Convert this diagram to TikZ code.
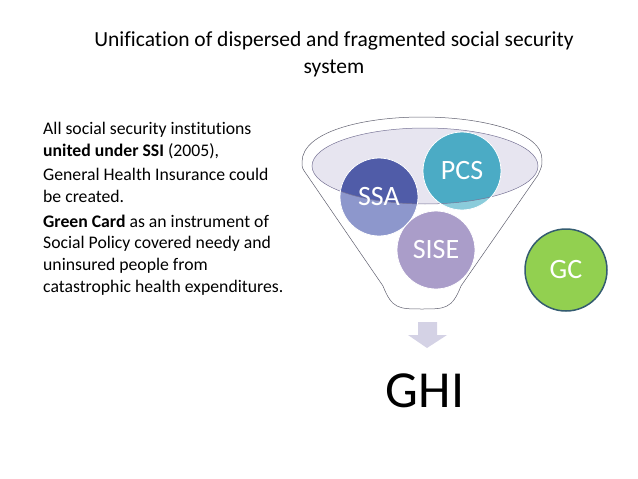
\documentclass[tikz,border=0pt]{standalone}
\usepackage{fontspec}
\setmainfont[Ligatures=NoCommon]{Carlito}
\usetikzlibrary{positioning}

\definecolor{ssadark}{RGB}{80,92,168}
\definecolor{ssalight}{RGB}{141,151,204}
\definecolor{pcsdark}{RGB}{75,171,197}
\definecolor{pcslight}{RGB}{139,204,219}
\definecolor{sisefill}{RGB}{170,157,201}
\definecolor{rimfill}{RGB}{231,229,240}
\definecolor{rimline}{RGB}{120,116,150}
\definecolor{funline}{RGB}{95,95,110}
\definecolor{arrowfill}{RGB}{212,210,229}
\definecolor{gcfill}{RGB}{146,208,80}
\definecolor{gcline}{RGB}{52,92,112}

\tikzset{
 ball/.style={circle,draw=white,line width=0.8pt,minimum size=78pt,inner sep=0pt,
   text=white,font=\fontsize{28}{28}\selectfont},
 para/.style={align=left,inner sep=0pt,font=\fontsize{17.7}{21.7}\selectfont},
}

\begin{document}
\begin{tikzpicture}[x=1pt,y=-1pt]
 \useasboundingbox (0,0) rectangle (638,479);
 \node[align=center,inner sep=0pt,anchor=north,font=\fontsize{21.5}{27}\selectfont] (title) at (334,31)
   {Unification of dispersed and fragmented social security\\system};
 \node[para,anchor=north west] (notes) at (43,122)
   {All social security institutions\\
    \textbf{united under SSI} (2005),\\[3pt]
    General Health Insurance could\\
    be created.\\[3pt]
    \textbf{Green Card} as an instrument of\\
    Social Policy covered needy and\\
    uninsured people from\\
    catastrophic health expenditures.};
 % funnel
 \draw[funline,line width=0.5pt] (302,162) .. controls (302,132) and (362,117) .. (422,117)
   .. controls (482,117) and (543,132) .. (542,160)
   .. controls (542,166) .. (538,175) -- (461,286)
   .. controls (452,309) and (445,309) .. (422,309)
   .. controls (399,309) and (392,309) .. (383,286) -- (307,175)
   .. controls (302,168) .. cycle;
 \fill[rimfill] (425,166) ellipse[x radius=113pt,y radius=38pt];
 \fill[ssalight] (379,197) circle (39pt);
 \fill[pcslight] (462,171) circle (39pt);
 \fill[sisefill] (436,250) circle (39pt);
 \begin{scope}
  \clip (425,166) ellipse[x radius=113pt,y radius=38pt];
  \fill[ssadark] (379,197) circle (39pt);
  \fill[pcsdark] (462,171) circle (39pt);
 \end{scope}
 \draw[rimline,line width=0.5pt] (425,166) ellipse[x radius=113pt,y radius=38pt];
 \node[ball] (ssa) at (379,197) {SSA};
 \node[ball] (pcs) at (462,171) {PCS};
 \node[ball] (sise) at (436,250) {SISE};
 % arrow to GHI
 \fill[arrowfill] (418,322) -- (437,322) -- (437,335) -- (447,335) -- (427,348)
   -- (408,335) -- (418,335) -- cycle;
 \node[inner sep=0pt,font=\fontsize{52}{52}\selectfont] (ghi) at (425,391) {GHI};
 \node[circle,fill=gcfill,draw=gcline,line width=1.5pt,minimum size=82pt,inner sep=0pt,
   text=white,font=\fontsize{28}{28}\selectfont] (gc) at (566,270) {GC};
\end{tikzpicture}
\end{document}
